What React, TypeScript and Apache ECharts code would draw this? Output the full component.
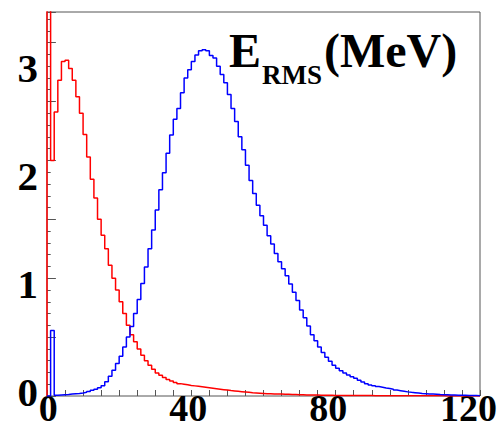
import React, { useEffect, useRef } from "react";
import * as echarts from "echarts";

// Histogram bins: bin i covers [i, i+1) MeV, 120 bins from 0 to 120.
// Red histogram (bin 0 is off-scale, above the top of the frame)
const redCounts: number[] = [
  4.0, 2.0, 2.41, 2.68, 2.84, 2.85, 2.78, 2.68, 2.54, 2.4,
  2.22, 2.03, 1.84, 1.68, 1.5, 1.365, 1.25, 1.11, 1.0, 0.9,
  0.8, 0.7, 0.6, 0.52, 0.46, 0.4, 0.345, 0.3, 0.26, 0.227,
  0.195, 0.176, 0.156, 0.14, 0.128, 0.114, 0.105, 0.1, 0.095, 0.09,
  0.086, 0.082, 0.078, 0.074, 0.07, 0.066, 0.062, 0.058, 0.054, 0.05,
  0.046, 0.043, 0.04, 0.037, 0.034, 0.031, 0.028, 0.026, 0.024, 0.022,
  0.02, 0.019, 0.018, 0.017, 0.016, 0.015, 0.014, 0.013, 0.012, 0.011,
  0.01, 0.009, 0.009, 0.008, 0.008, 0.007, 0.007, 0.006, 0.006, 0.005,
  0.005, 0.004, 0.004, 0.004, 0.004, 0.004, 0.004, 0.004, 0.004, 0.004,
  0.003, 0.003, 0.003, 0.003, 0.003, 0.003, 0.003, 0.003, 0.003, 0.003,
  0.002, 0.002, 0.002, 0.002, 0.002, 0.002, 0.002, 0.002, 0.002, 0.002,
  0.001, 0.001, 0.001, 0.001, 0.001, 0.001, 0.001, 0.001, 0.001, 0.001,
];

// Blue histogram
const blueCounts: number[] = [
  0.0, 0.557, 0.006, 0.008, 0.01, 0.012, 0.016, 0.019, 0.022, 0.026,
  0.032, 0.039, 0.048, 0.058, 0.07, 0.088, 0.12, 0.167, 0.218, 0.275,
  0.337, 0.416, 0.5, 0.59, 0.7, 0.82, 0.955, 1.096, 1.25, 1.41,
  1.58, 1.75, 1.895, 2.06, 2.215, 2.35, 2.44, 2.575, 2.7, 2.77,
  2.84, 2.895, 2.93, 2.94, 2.93, 2.89, 2.87, 2.8, 2.73, 2.66,
  2.56, 2.44, 2.33, 2.2, 2.09, 1.96, 1.83, 1.72, 1.62, 1.53,
  1.45, 1.36, 1.29, 1.21, 1.14, 1.08, 1.02, 0.95, 0.88, 0.81,
  0.73, 0.665, 0.595, 0.52, 0.47, 0.416, 0.37, 0.33, 0.295, 0.26,
  0.235, 0.215, 0.195, 0.178, 0.163, 0.15, 0.133, 0.118, 0.105, 0.094,
  0.087, 0.08, 0.074, 0.068, 0.063, 0.057, 0.05, 0.045, 0.04, 0.035,
  0.031, 0.028, 0.025, 0.022, 0.02, 0.018, 0.016, 0.014, 0.012, 0.011,
  0.01, 0.009, 0.008, 0.007, 0.006, 0.006, 0.005, 0.004, 0.004, 0.003,
];

const xTickLabels: number[] = [0, 40, 80, 120];
const yTickLabels: number[] = [0, 1, 2, 3];

const X_MIN = 0;
const X_MAX = 120;
const Y_MAX = 3.26;

function histData(counts: number[]): number[][] {
  const pts: number[][] = [[X_MIN, 0]];
  counts.forEach((v, i) => pts.push([X_MIN + i, v]));
  pts.push([X_MIN + counts.length, counts[counts.length - 1]]);
  pts.push([X_MIN + counts.length, 0]);
  return pts;
}

const FONT = "'Liberation Serif', 'Times New Roman', serif";
const FRAME = "#555555";

export default function App() {
  const ref = useRef<HTMLDivElement>(null);
  useEffect(() => {
    if (!ref.current) return;
    const chart = echarts.init(ref.current, undefined, { renderer: "svg" });
    chart.setOption({
      animation: false,
      backgroundColor: "#ffffff",
      grid: {
        left: 47,
        top: 12,
        width: 433,
        height: 384,
        show: true,
        borderColor: FRAME,
        borderWidth: 1,
        backgroundColor: "transparent",
      },
      xAxis: [
        {
          type: "value",
          min: X_MIN,
          max: X_MAX,
          interval: 5,
          position: "bottom",
          axisLine: { show: false },
          axisTick: { show: true, inside: true, length: 6, lineStyle: { color: FRAME, width: 1 } },
          axisLabel: { show: false },
          splitLine: { show: false },
        },
        {
          type: "value",
          min: -0.34,
          max: 123.3,
          position: "bottom",
          axisLine: { show: false },
          axisTick: { show: false },
          splitLine: { show: false },
          axisLabel: {
            fontFamily: FONT,
            fontWeight: "bold",
            fontSize: 38,
            color: "#000",
            lineHeight: 34,
            margin: -5,
            customValues: xTickLabels,
            showMinLabel: true,
            showMaxLabel: true,
          },
        },
      ],
      yAxis: [
        {
          type: "value",
          min: 0,
          max: Y_MAX,
          interval: 0.1,
          position: "left",
          axisLine: { show: false },
          axisTick: { show: true, inside: true, length: 3.7, lineStyle: { color: FRAME, width: 1 } },
          axisLabel: { show: false },
          splitLine: { show: false },
        },
        {
          type: "value",
          min: 0,
          max: Y_MAX,
          interval: 0.5,
          position: "left",
          axisLine: { show: false },
          axisTick: { show: true, inside: true, length: 7.7, lineStyle: { color: FRAME, width: 1 } },
          axisLabel: { show: false },
          splitLine: { show: false },
        },
        {
          type: "value",
          min: -0.038,
          max: 3.518,
          position: "left",
          axisLine: { show: false },
          axisTick: { show: false },
          splitLine: { show: false },
          axisLabel: {
            fontFamily: FONT,
            fontWeight: "bold",
            fontSize: 41,
            color: "#000",
            lineHeight: 30,
            margin: 9,
            customValues: yTickLabels,
            showMinLabel: true,
            showMaxLabel: true,
          },
        },
      ],
      series: [
        {
          type: "line",
          name: "red",
          xAxisIndex: 0,
          yAxisIndex: 0,
          data: histData(redCounts),
          step: "end",
          symbol: "none",
          clip: true,
          lineStyle: { color: "#ff0000", width: 1.5 },
          z: 3,
        },
        {
          type: "line",
          name: "blue",
          xAxisIndex: 0,
          yAxisIndex: 0,
          data: histData(blueCounts),
          step: "end",
          symbol: "none",
          clip: true,
          lineStyle: { color: "#0000ff", width: 1.5 },
          z: 4,
        },
      ],
      graphic: [
        {
          type: "text",
          left: 229,
          top: 26,
          style: { text: "E", font: `bold 48px ${FONT}`, fill: "#000" },
          z: 10,
        },
        {
          type: "text",
          left: 262,
          top: 61,
          style: { text: "RMS", font: `bold 27px ${FONT}`, fill: "#000" },
          z: 10,
        },
        {
          type: "text",
          left: 324,
          top: 26,
          style: { text: "(MeV)", font: `bold 48px ${FONT}`, fill: "#000" },
          z: 10,
        },
      ],
    });
    return () => chart.dispose();
  }, []);
  return (
    <div
      ref={ref}
      style={{ position: "absolute", left: 0, top: 0, width: 503, height: 431, background: "#fff" }}
    />
  );
}
